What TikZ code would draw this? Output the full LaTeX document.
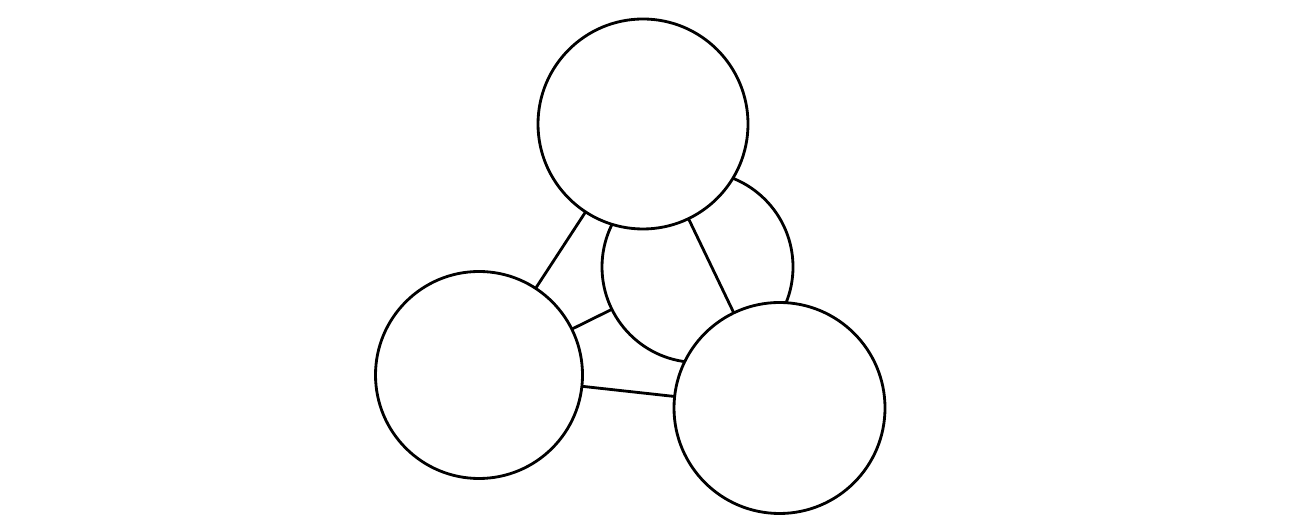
\documentclass[tikz,border=0pt]{standalone}
\usepackage{tikz}
\usetikzlibrary{positioning}

\begin{document}
\begin{tikzpicture}[
  line width=1.6pt,
  mycirc/.style={
    draw,
    circle,
    fill=white,
    inner sep=0pt,
    outer sep=0pt,
    minimum size=#1
  }
]
\useasboundingbox (0,0) rectangle (25.96,10.6);

\node[mycirc=3.82cm] at (13.95,5.26) (n2) {};
\node[mycirc=4.2cm] at (12.86,8.12) (n1) {};
\node[mycirc=4.14cm] at (9.58,3.1) (n3) {};
\node[mycirc=4.22cm] at (15.59,2.44) (n4) {};

\draw (n1) -- (n3);
\draw (n1) -- (n4);
\draw (n2) -- (n3);
\draw (n3) -- (n4);

\end{tikzpicture}
\end{document}
